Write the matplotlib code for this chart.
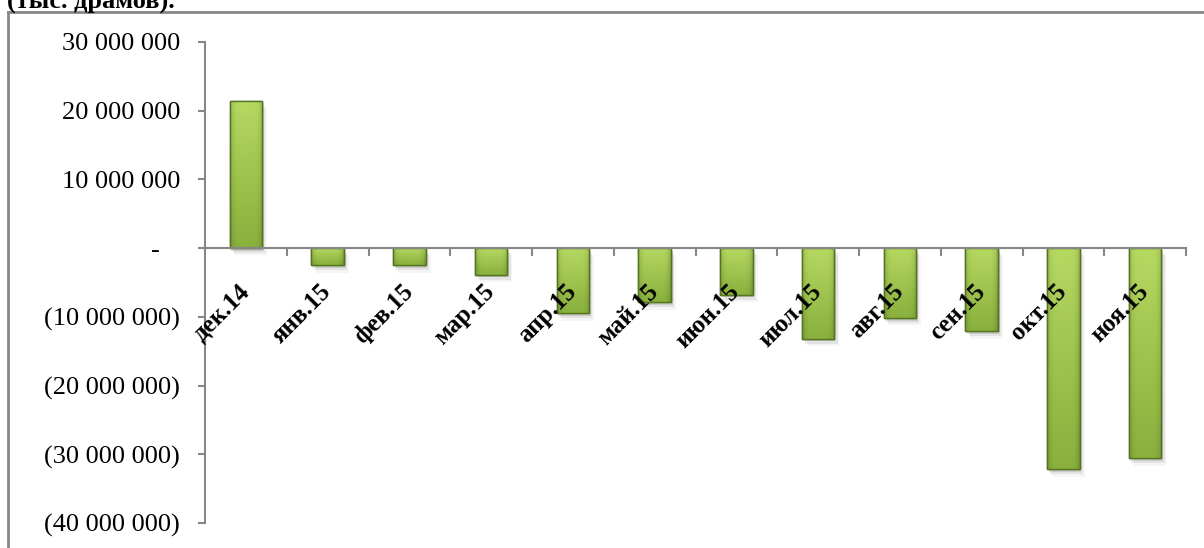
import matplotlib
matplotlib.use("Agg")
import matplotlib.pyplot as plt
import numpy as np
from matplotlib.transforms import ScaledTranslation
from matplotlib.lines import Line2D
from matplotlib.ticker import FixedLocator, FuncFormatter

categories = ["дек.14", "янв.15", "фев.15", "мар.15", "апр.15", "май.15",
              "июн.15", "июл.15", "авг.15", "сен.15", "окт.15", "ноя.15"]
values = [21400000, -2500000, -2500000, -3900000, -9500000, -7900000,
          -6800000, -13200000, -10200000, -12100000, -32200000, -30600000]
yticks = [30000000, 20000000, 10000000, 0, -10000000, -20000000, -30000000, -40000000]
title_text = "(тыс. драмов)."

SERIF = ["Liberation Serif", "DejaVu Serif"]
GRAY = "#878787"

fig = plt.figure(figsize=(12.04, 5.48), dpi=100)
ax = fig.add_axes([205/1204, 1-523/548, (1186-205)/1204, 481/548])

x = np.arange(len(categories))
bars = ax.bar(x, values, width=0.4, color="#98c046", edgecolor="#55741f",
              linewidth=1.0, zorder=3)

def gradient_img():
    h, w = 64, 32
    v = np.linspace(0, 1, h)[:, None]
    u = np.linspace(-1, 1, w)[None, :]
    top = np.array([0.71, 0.85, 0.38])
    bot = np.array([0.54, 0.69, 0.24])
    base = top[None, None, :] * (1 - v[..., None]) + bot[None, None, :] * v[..., None]
    edge = 1 - 0.18 * (np.abs(u) ** 6)
    return np.clip(base * edge[..., None], 0, 1)

img = gradient_img()
for b in bars:
    x0, y0 = b.get_x(), b.get_y()
    w, h = b.get_width(), b.get_height()
    ylo, yhi = min(y0, y0 + h), max(y0, y0 + h)
    im = ax.imshow(img, extent=[x0, x0 + w, ylo, yhi], aspect="auto",
                   zorder=3.5, interpolation="bilinear")
    im.set_clip_path(b)
    for k, a in enumerate([0.10, 0.07, 0.04]):
        off = (k + 1) * 0.35e6
        sh = plt.Rectangle((x0 + 0.02 * (k + 1), ylo - off), w, yhi - ylo,
                           color="black", alpha=a, lw=0, zorder=2)
        ax.add_patch(sh)
    ax.add_patch(plt.Rectangle((x0, ylo), w, yhi - ylo, fill=False,
                               edgecolor="#55741f", lw=1.0, zorder=4))

ax.set_xlim(-0.5, len(categories) - 0.5)
ax.set_ylim(-40000000, 30000000)

for s in ["top", "right"]:
    ax.spines[s].set_visible(False)
ax.spines["bottom"].set_position(("data", 0))
ax.spines["bottom"].set_color(GRAY)
ax.spines["bottom"].set_linewidth(1.5)
ax.spines["bottom"].set_zorder(5)
ax.spines["left"].set_color(GRAY)
ax.spines["left"].set_linewidth(1.5)

ax.set_yticks(yticks)
def yfmt(v, pos):
    if v == 0:
        return "-"
    s = f"{abs(int(v)):,}".replace(",", " ")
    return f"({s})" if v < 0 else s
ax.yaxis.set_major_formatter(FuncFormatter(yfmt))
ax.tick_params(axis="y", direction="out", length=5, width=1.5, color=GRAY,
               pad=13, labelsize=19)
ylabels = ax.get_yticklabels()
for lbl in ylabels:
    lbl.set_family(SERIF)
zero_idx = yticks.index(0)
ylabels[zero_idx].set_transform(ylabels[zero_idx].get_transform() +
                                ScaledTranslation(-20/100, 0, fig.dpi_scale_trans))

ax.set_xticks(x)
ax.set_xticklabels(categories, rotation=45, ha="right", va="top",
                   fontsize=18, fontweight="bold", family=SERIF)
ax.xaxis.set_minor_locator(FixedLocator(np.arange(len(categories)) + 0.5))
ax.tick_params(axis="x", which="major", length=0, pad=23)
ax.tick_params(axis="x", which="minor", direction="out", length=6, width=1.5,
               color=GRAY)
off = ScaledTranslation(8/100, 0, fig.dpi_scale_trans)
for lbl in ax.get_xticklabels():
    lbl.set_transform(lbl.get_transform() + off)
ax.xaxis.set_zorder(6)

fig.add_artist(Line2D([8/1204, 8/1204], [0, 1-12/548], transform=fig.transFigure,
                      color=GRAY, lw=2))
fig.add_artist(Line2D([8/1204, 1], [1-12/548, 1-12/548], transform=fig.transFigure,
                      color=GRAY, lw=2))

fig.text(7/1204, 1-9/548, title_text, ha="left", va="baseline",
         fontsize=19, fontweight="bold", family=SERIF)

fig.savefig("out.png", dpi=100)
